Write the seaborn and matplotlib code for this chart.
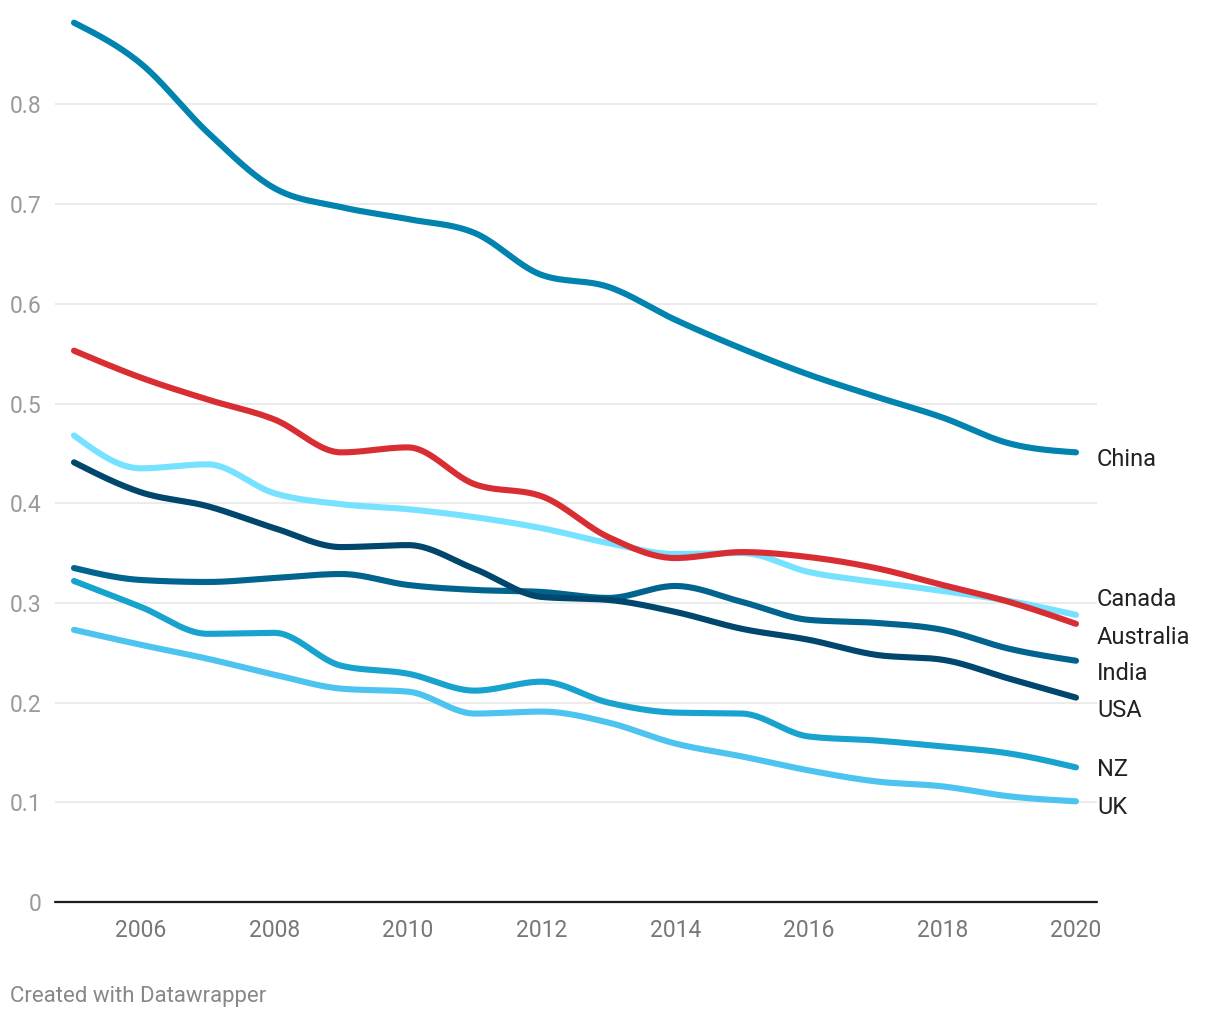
import numpy as np
import pandas as pd
import matplotlib
matplotlib.use("Agg")
import matplotlib.pyplot as plt
import matplotlib.transforms as mtransforms
import seaborn as sns

# ---------------- data ----------------
years = [2005, 2006, 2007, 2008, 2009, 2010, 2011, 2012,
         2013, 2014, 2015, 2016, 2017, 2018, 2019, 2020]

china = [0.882, 0.841, 0.772, 0.716, 0.697, 0.685, 0.671, 0.629,
         0.617, 0.584, 0.555, 0.529, 0.507, 0.486, 0.460, 0.451]
canada = [0.468, 0.435, 0.439, 0.410, 0.399, 0.394, 0.386, 0.375,
          0.360, 0.349, 0.350, 0.331, 0.321, 0.312, 0.302, 0.288]
australia = [0.553, 0.526, 0.504, 0.484, 0.451, 0.456, 0.419, 0.407,
             0.366, 0.345, 0.351, 0.346, 0.335, 0.318, 0.301, 0.279]
india = [0.335, 0.323, 0.321, 0.325, 0.329, 0.318, 0.313, 0.311,
         0.305, 0.317, 0.301, 0.283, 0.280, 0.273, 0.254, 0.242]
usa = [0.441, 0.411, 0.397, 0.375, 0.356, 0.358, 0.334, 0.306,
       0.303, 0.291, 0.274, 0.263, 0.248, 0.243, 0.224, 0.205]
nz = [0.322, 0.296, 0.269, 0.270, 0.237, 0.229, 0.212, 0.221,
      0.200, 0.190, 0.189, 0.166, 0.162, 0.156, 0.149, 0.135]
uk = [0.273, 0.258, 0.244, 0.228, 0.214, 0.211, 0.189, 0.191,
      0.180, 0.159, 0.146, 0.132, 0.121, 0.116, 0.106, 0.101]

countries = ["China", "Canada", "Australia", "India", "USA", "NZ", "UK"]
series = [china, canada, australia, india, usa, nz, uk]
x_ticks = [2006, 2008, 2010, 2012, 2014, 2016, 2018, 2020]
y_ticks = [0, 0.1, 0.2, 0.3, 0.4, 0.5, 0.6, 0.7, 0.8]
y_tick_labels = ["0", "0.1", "0.2", "0.3", "0.4", "0.5", "0.6", "0.7", "0.8"]

# ---------------- style ----------------
colors = {
    "China": "#0083ae",
    "Canada": "#76e2ff",
    "Australia": "#d82e33",
    "India": "#00648e",
    "USA": "#00466d",
    "NZ": "#18a3cf",
    "UK": "#4dc3ef",
}
draw_order = ["UK", "NZ", "India", "USA", "Canada", "Australia", "China"]
# label baseline positions (y in data units) to avoid collisions, like Datawrapper
label_baseline = {
    "China": 0.437, "Canada": 0.297, "Australia": 0.259, "India": 0.223,
    "USA": 0.186, "NZ": 0.126, "UK": 0.088,
}


def monotone_x(x, y, n=40):
    """Render a smooth monotone cubic (like d3.curveMonotoneX) through the points."""
    x = np.asarray(x, float)
    y = np.asarray(y, float)
    h = np.diff(x)
    s = np.diff(y) / h
    m = np.zeros_like(y)
    for i in range(1, len(y) - 1):
        s0, s1 = s[i - 1], s[i]
        p = (s0 * h[i] + s1 * h[i - 1]) / (h[i - 1] + h[i])
        m[i] = (np.sign(s0) + np.sign(s1)) * min(abs(s0), abs(s1), 0.5 * abs(p))
    m[0] = (3 * s[0] - m[1]) / 2
    m[-1] = (3 * s[-1] - m[-2]) / 2
    xs, ys = [], []
    for i in range(len(x) - 1):
        t = np.linspace(0, 1, n, endpoint=False)
        h00 = 2 * t**3 - 3 * t**2 + 1
        h10 = t**3 - 2 * t**2 + t
        h01 = -2 * t**3 + 3 * t**2
        h11 = t**3 - t**2
        xs.append(x[i] + t * h[i])
        ys.append(h00 * y[i] + h10 * h[i] * m[i] + h01 * y[i + 1] + h11 * h[i] * m[i + 1])
    xs.append([x[-1]])
    ys.append([y[-1]])
    return np.concatenate(xs), np.concatenate(ys)


frames = []
for name, vals in zip(countries, series):
    xs, ys = monotone_x(years, vals)
    frames.append(pd.DataFrame({"year": xs, "value": ys, "country": name}))
df = pd.concat(frames, ignore_index=True)

sns.set_theme(style="white")
plt.rcParams["font.family"] = ["Roboto", "DejaVu Sans"]

W, H = 1220, 1018
fig = plt.figure(figsize=(W / 100, H / 100), dpi=100)
left_px, right_px, top_px, bottom_px = 55, 1097, 14.7, 902
ax = fig.add_axes([left_px / W, 1 - bottom_px / H,
                   (right_px - left_px) / W, (bottom_px - top_px) / H])

for c in draw_order:
    sns.lineplot(data=df[df["country"] == c], x="year", y="value",
                 color=colors[c], linewidth=4.4, ax=ax, sort=False,
                 estimator=None, solid_capstyle="round", clip_on=False,
                 zorder=3, legend=False)

ax.set_xlim(2005 - 19 / 66.8, 2020 + 21 / 66.8)
ax.set_ylim(0, 0.89)

ax.set_yticks(y_ticks)
ax.set_yticklabels(y_tick_labels)
ax.set_xticks(x_ticks)
ax.set_xticklabels([str(v) for v in x_ticks])
ax.tick_params(axis="y", length=0, pad=9.5, labelsize=16.5, labelcolor="#9a9a9a")
ax.tick_params(axis="x", length=0, pad=12, labelsize=16.5, labelcolor="#777777")
ax.set_xlabel("")
ax.set_ylabel("")

for v in y_ticks[1:]:
    ax.axhline(v, color="#e6e6e6", linewidth=1.1, zorder=1)
ax.axhline(0, color="#1d1d1d", linewidth=1.6, zorder=4, clip_on=False)

for s in ax.spines.values():
    s.set_visible(False)
ax.grid(False)

trans = mtransforms.blended_transform_factory(ax.transAxes, ax.transData)
for c in countries:
    ax.text(1.0, label_baseline[c], c, transform=trans, ha="left", va="baseline",
            fontsize=17, color="#222222")

fig.text(10 / W, 1 - 1002 / H, "Created with Datawrapper", ha="left",
         va="baseline", fontsize=16, color="#888888")

fig.savefig("out.png", dpi=100, facecolor="white")
